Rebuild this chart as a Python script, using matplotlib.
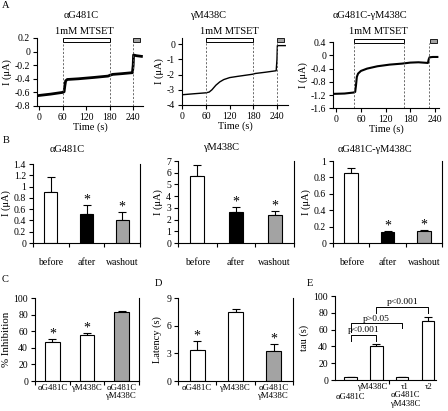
import numpy as np
import matplotlib.pyplot as plt
import matplotlib.transforms as mtransforms
from matplotlib.patches import Rectangle

plt.rcParams['font.family'] = ['Liberation Serif', 'DejaVu Serif']
plt.rcParams['font.size'] = 7
plt.rcParams['axes.unicode_minus'] = False
plt.rcParams['axes.linewidth'] = 0.8
plt.rcParams['xtick.major.width'] = 0.8
plt.rcParams['ytick.major.width'] = 0.8
plt.rcParams['xtick.minor.width'] = 0.8
plt.rcParams['xtick.major.size'] = 3
plt.rcParams['ytick.major.size'] = 3
plt.rcParams['xtick.major.pad'] = 2
plt.rcParams['ytick.major.pad'] = 2

# ---- A: current traces (time s, current uA)
a1_t = [-4, 0, 30, 60, 64, 66, 68, 72, 100, 140, 176, 182, 188, 210, 238, 240, 241, 248, 261]
a1_i = [-0.65, -0.645, -0.625, -0.60, -0.59, -0.50, -0.43, -0.41, -0.40, -0.38, -0.36,
        -0.345, -0.335, -0.325, -0.31, -0.20, -0.05, -0.06, -0.07]
a2_t = [-2, 30, 60, 68, 75, 85, 95, 105, 120, 140, 178, 185, 210, 238, 240, 241, 261]
a2_i = [-3.33, -3.26, -3.2, -3.15, -3.0, -2.7, -2.48, -2.33, -2.2, -2.12, -1.98, -1.93,
        -1.85, -1.75, -1.0, -0.1, -0.1]
a3_t = [-6, 20, 42, 46, 48, 50, 53, 60, 75, 100, 130, 160, 180, 200, 223, 225, 227, 235, 246]
a3_i = [-1.16, -1.15, -1.12, -1.10, -0.9, -0.65, -0.55, -0.47, -0.40, -0.33, -0.28, -0.25,
        -0.22, -0.21, -0.23, -0.12, -0.06, -0.05, -0.05]
a_titles = ['αG481C', 'γM438C', 'αG481C-γM438C']
a_dash = [[60, 180, 240], [60, 180, 240], [42, 165, 225]]
a_mtset = [(60, 182), (60, 180), (42, 164)]
a_wash = [(240, 258), (240, 258), (227, 244)]
a_yticks = [[0.2, 0, -0.2, -0.4, -0.6, -0.8], [0, -1, -2, -3, -4],
            [0.4, 0, -0.4, -0.8, -1.2, -1.6]]
a_ylim = [(-0.8, 0.2), (-4, 0.4), (-1.6, 0.4)]
a_xlim = [(-5, 265), (-1, 268), (-8, 250)]
a_lw = [2.0, 1.0, 1.5]
time_ticks = [0, 60, 120, 180, 240]

# ---- B: current before / after / washout
b_groups = ['before', 'after', 'washout']
b1_mean = [0.90, 0.51, 0.41]
b1_err = [0.27, 0.17, 0.14]
b2_mean = [5.7, 2.65, 2.35]
b2_err = [1.0, 0.45, 0.40]
b3_mean = [0.85, 0.14, 0.15]
b3_err = [0.07, 0.01, 0.01]
b_star = [False, True, True]

# ---- C, D, E
c_labels = ['αG481C', 'γM438C', 'αG481C\nγM438C']
c_mean = [47, 56, 83]
c_err = [4, 1.5, 1]
c_star = [True, True, False]
d_mean = [3.35, 7.45, 3.2]
d_err = [1.0, 0.4, 0.8]
d_star = [True, False, True]
e_labels = ['αG481C', 'γM438C', 'τ1\nαG481C\nγM438C', 'τ2']
e_mean = [3, 41, 3, 70]
e_err = [0.6, 2.2, 0.6, 5.5]
# brackets: left bar, right bar, top, left leg end, right leg end, text
e_brackets = [(0, 1, 53.5, 47, 47, 'p<0.001'),
              (0, 2, 67.5, 57, 61.5, 'p>0.05'),
              (1, 3, 87, 80, 80, 'p<0.001')]

GRAY = '#a3a3a3'
W, H = 448, 411
fig = plt.figure(figsize=(W / 100, H / 100), dpi=100)


def add_ax(l, r, t, b):
    return fig.add_axes([l / W, 1 - b / H, (r - l) / W, (b - t) / H])


def ftext(x, y, s, **kw):
    fig.text(x / W, 1 - y / H, s, ha='center', va='center', **kw)


def trace_panel(ax, t, i, k, box_y):
    ax.plot(t, i, color='black', lw=a_lw[k], solid_joinstyle='round')
    ax.set_xlim(*a_xlim[k])
    ax.set_ylim(*a_ylim[k])
    ax.set_yticks(a_yticks[k])
    ax.set_yticklabels([f'{v:g}' for v in a_yticks[k]])
    ax.set_xticks(time_ticks)
    for s in ['top', 'right']:
        ax.spines[s].set_visible(False)
    tr = ax.get_xaxis_transform()
    ax.vlines(a_dash[k], 0, box_y[0], transform=tr, colors='#555555', lw=0.6,
              linestyles=(0, (2.5, 2)))
    x0, x1 = a_mtset[k]
    ax.add_patch(Rectangle((x0, box_y[0]), x1 - x0, box_y[1] - box_y[0], transform=tr,
                           fc='white', ec='black', lw=0.7, clip_on=False))
    x0, x1 = a_wash[k]
    ax.add_patch(Rectangle((x0, box_y[0]), x1 - x0, box_y[1] - box_y[0], transform=tr,
                           fc=GRAY, ec='black', lw=0.6, clip_on=False))
    ax.set_xlabel('Time (s)', fontsize=7.5, labelpad=0)
    ax.set_ylabel('I (μA)', fontsize=7.5, labelpad=2)


def bar_panel(ax, mean, err, colors, width, stars, right=True):
    x = np.arange(len(mean))
    ax.bar(x, mean, width, color=colors, edgecolor='black', lw=0.8, zorder=2)
    ax.errorbar(x, mean, yerr=[np.zeros(len(err)), err], fmt='none', ecolor='black',
                elinewidth=0.8, capsize=3, capthick=0.8, zorder=1)
    for xi, m, e, s in zip(x, mean, err, stars):
        if s:
            ax.annotate('*', (xi, m + e), xytext=(0, 1), textcoords='offset points',
                        ha='center', va='baseline', fontsize=10)
    ax.spines['top'].set_visible(False)
    ax.spines['right'].set_visible(right)
    ax.tick_params(axis='x', which='major', length=0)
    ax.tick_params(axis='x', which='minor', length=3, direction='out')


# ---- row A
a_boxes = [(0.94, 1.0), (0.937, 0.996), (0.99, 1.045)]
axes_a = [add_ax(37, 143, 38, 106), add_ax(182, 288, 38, 105), add_ax(333, 439, 42, 108.5)]
for k, (ax, t, i) in enumerate(zip(axes_a, [a1_t, a2_t, a3_t], [a1_i, a2_i, a3_i])):
    trace_panel(ax, t, i, k, a_boxes[k])
for x, s in zip([81, 208, 370], a_titles):
    ftext(x, 15, s, fontsize=7.5)
for x in [84, 229, 378]:
    ftext(x, 32, '1mM MTSET', fontsize=7.5)

# ---- row B
b_colors = ['white', 'black', GRAY]
b_specs = [(add_ax(33, 140, 164, 243), b1_mean, b1_err, np.arange(0, 1.41, 0.2), 1.4),
           (add_ax(178, 294, 161, 243), b2_mean, b2_err, np.arange(0, 8, 1), 7),
           (add_ax(333, 442, 161, 243), b3_mean, b3_err, np.arange(0, 1.01, 0.2), 1)]
for ax, m, e, yt, top in b_specs:
    bar_panel(ax, m, e, b_colors, 0.37, b_star)
    ax.set_xlim(-0.5, 2.5)
    ax.set_ylim(0, top)
    ax.set_yticks(yt)
    ax.set_yticklabels([f'{v:g}' for v in np.round(yt, 1)])
    ax.set_xticks(range(3))
    ax.set_xticklabels(b_groups, fontsize=7)
    ax.set_xticks([-0.5, 0.5, 1.5, 2.5], minor=True)
    ax.tick_params(axis='x', which='major', pad=11)
    ax.set_ylabel('I (μA)', fontsize=7.5, labelpad=2)
for x, y, s in zip([67, 221, 375], [150, 148, 149], a_titles):
    ftext(x, y, s, fontsize=7.5)

# ---- C
ax = add_ax(35, 139, 298, 381)
bar_panel(ax, c_mean, c_err, ['white', 'white', GRAY], 0.42, c_star)
ax.set_xlim(-0.5, 2.5)
ax.set_ylim(0, 100)
ax.set_yticks(range(0, 101, 20))
ax.set_xticks(range(3))
ax.set_xticklabels(c_labels, fontsize=6.3, linespacing=1.1)
ax.set_xticks([-0.5, 0.5, 1.5, 2.5], minor=True)
ax.set_ylabel('% Inhibition', fontsize=7.8, labelpad=2)

# ---- D
ax = add_ax(178, 293, 298, 381)
bar_panel(ax, d_mean, d_err, ['white', 'white', GRAY], 0.40, d_star)
ax.set_xlim(-0.5, 2.5)
ax.set_ylim(0, 9)
ax.set_yticks([0, 3, 6, 9])
ax.set_xticks(range(3))
ax.set_xticklabels(c_labels, fontsize=6.3, linespacing=1.1)
ax.set_xticks([-0.5, 0.5, 1.5, 2.5], minor=True)
ax.set_ylabel('Latency (s)', fontsize=7.5, labelpad=3)

# ---- E
ax = add_ax(335, 436, 296, 380)
bar_panel(ax, e_mean, e_err, ['white'] * 4, 0.47, [False] * 4, right=False)
ax.set_xlim(-0.6, 3.3)
ax.set_ylim(0, 100)
ax.set_yticks(range(0, 101, 20))
ax.set_xticks(range(4))
ax.set_xticklabels(e_labels, fontsize=6.2, linespacing=1.1, va='top')
ax.set_xticks([1.5], minor=True)
# stagger the crowded labels: first one drops a line, middle two nudge apart
for lab, dx, dy in zip(ax.get_xticklabels(), [0, -3, 2, 0], [-7, 0, 0, 0]):
    lab.set_transform(lab.get_transform() +
                      mtransforms.ScaledTranslation(dx / 72, dy / 72, fig.dpi_scale_trans))
ax.set_ylabel('tau (s)', fontsize=7.5, labelpad=3)
for x0, x1, top, yl, yr, s in e_brackets:
    ax.plot([x0, x0, x1, x1], [yl, top, top, yr], color='black', lw=0.7, clip_on=False)
    ax.text((x0 + x1) / 2, top + 0.8, s, ha='center', va='bottom', fontsize=6.8)

# panel letters
for x, y, s in [(6, 5, 'A'), (6, 140, 'B'), (5, 280, 'C'), (158, 283, 'D'), (310, 283, 'E')]:
    ftext(x, y, s, fontsize=7.5)

fig.savefig('out.png', dpi=100)
